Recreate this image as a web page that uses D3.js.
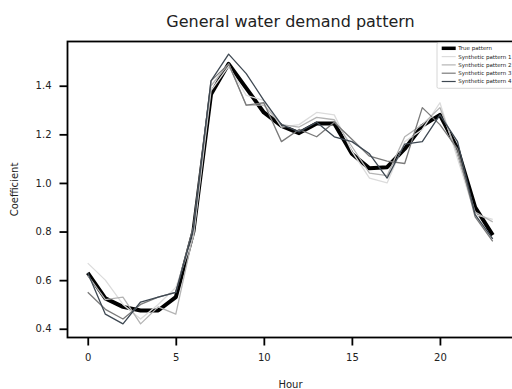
<!doctype html>
<html>
  <head>
    <script src="https://cdnjs.cloudflare.com/ajax/libs/d3/7.8.5/d3.min.js"></script>
    <style>
      body { margin: 0; background: #fff; }
      text { font-family: "DejaVu Sans", sans-serif; fill: #222; }
    </style>
  </head>
  <body>
    <svg width="512" height="389"></svg>
    <script>
        var hours = d3.range(24);
        var truePattern = [0.63, 0.525, 0.49, 0.475, 0.475, 0.53, 0.80, 1.365, 1.49, 1.39, 1.29, 1.235, 1.205, 1.245, 1.245, 1.12, 1.06, 1.065, 1.14, 1.235, 1.28, 1.14, 0.90, 0.785];
        var synth1 = [0.67, 0.60, 0.50, 0.44, 0.50, 0.57, 0.78, 1.38, 1.48, 1.36, 1.34, 1.23, 1.24, 1.29, 1.28, 1.13, 1.02, 1.00, 1.17, 1.22, 1.33, 1.10, 0.87, 0.85];
        var synth2 = [0.62, 0.52, 0.53, 0.42, 0.49, 0.46, 0.79, 1.40, 1.49, 1.32, 1.32, 1.24, 1.23, 1.27, 1.26, 1.15, 1.04, 1.03, 1.19, 1.24, 1.31, 1.12, 0.88, 0.84];
        var synth3 = [0.55, 0.48, 0.44, 0.50, 0.53, 0.55, 0.82, 1.42, 1.49, 1.32, 1.33, 1.17, 1.22, 1.19, 1.25, 1.18, 1.11, 1.09, 1.08, 1.31, 1.24, 1.14, 0.86, 0.76];
        var synth4 = [0.63, 0.46, 0.42, 0.51, 0.53, 0.55, 0.81, 1.42, 1.53, 1.45, 1.34, 1.24, 1.21, 1.25, 1.19, 1.17, 1.12, 1.02, 1.16, 1.17, 1.28, 1.17, 0.87, 0.77];
        var seriesNames = ["True pattern", "Synthetic pattern 1", "Synthetic pattern 2", "Synthetic pattern 3", "Synthetic pattern 4"];
        var xTicks = [0, 5, 10, 15, 20];
        var yTicks = [0.4, 0.6, 0.8, 1.0, 1.2, 1.4];

        var series = [
            {name: seriesNames[0], values: truePattern, color: "#000", width: 4},
            {name: seriesNames[1], values: synth1, color: "#dcdcdc", width: 1.3},
            {name: seriesNames[2], values: synth2, color: "#b4b4b4", width: 1.3},
            {name: seriesNames[3], values: synth3, color: "#7a7a7a", width: 1.3},
            {name: seriesNames[4], values: synth4, color: "#3e4852", width: 1.3}
        ];

        var plotLeft = 67.5, plotRight = 513, plotTop = 41.5, plotBottom = 337.5;
        var x = d3.scaleLinear().domain([-1.15, 24.15]).range([plotLeft, plotRight]);
        var y = d3.scaleLinear().domain([0.364, 1.582]).range([plotBottom, plotTop]);

        var svg = d3.select("svg");

        var line = d3.line()
            .x((d, i) => x(hours[i]))
            .y(d => y(d));

        svg.append("g").selectAll("path")
            .data(series)
            .enter()
            .append("path")
                .attr("d", d => line(d.values))
                .attr("fill", "none")
                .attr("stroke", d => d.color)
                .attr("stroke-width", d => d.width)
                .attr("stroke-linejoin", "round");

        // frame
        svg.append("rect")
            .attr("x", plotLeft).attr("y", plotTop)
            .attr("width", plotRight - plotLeft).attr("height", plotBottom - plotTop)
            .attr("fill", "none").attr("stroke", "#000").attr("stroke-width", 1.8);

        var xAxis = svg.append("g")
            .attr("transform", "translate(0," + plotBottom + ")")
            .call(d3.axisBottom(x).tickValues(xTicks).tickFormat(d3.format("d")).tickSize(8).tickPadding(8));
        var yAxis = svg.append("g")
            .attr("transform", "translate(" + plotLeft + ",0)")
            .call(d3.axisLeft(y).tickValues(yTicks).tickFormat(d3.format(".1f")).tickSize(8).tickPadding(8));
        [xAxis, yAxis].forEach(a => {
            a.select(".domain").remove();
            a.selectAll(".tick line").attr("stroke", "#000").attr("stroke-width", 1.8);
            a.selectAll(".tick text").attr("font-size", 10).attr("font-family", "DejaVu Sans").attr("fill", "#222");
        });

        svg.append("text")
            .attr("x", 290.5).attr("y", 26.5)
            .attr("text-anchor", "middle").attr("font-size", 16)
            .text("General water demand pattern");
        svg.append("text")
            .attr("x", 290.5).attr("y", 387.5)
            .attr("text-anchor", "middle").attr("font-size", 10)
            .text("Hour");
        svg.append("text")
            .attr("transform", "translate(17.5," + ((plotTop + plotBottom) / 2) + ") rotate(-90)")
            .attr("text-anchor", "middle").attr("font-size", 10)
            .text("Coefficient");

        // legend
        var lg = svg.append("g");
        lg.append("rect")
            .attr("x", 437).attr("y", 42.7).attr("width", 90).attr("height", 45.6)
            .attr("rx", 1.5)
            .attr("fill", "#fff").attr("fill-opacity", 0.85)
            .attr("stroke", "#cccccc").attr("stroke-width", 0.8);
        var item = lg.selectAll("g.item")
            .data(series)
            .enter()
            .append("g")
                .attr("transform", (d, i) => "translate(0," + (48.3 + i * 8.3) + ")");
        item.append("line")
            .attr("x1", 441.7).attr("x2", 455.7)
            .attr("stroke", d => d.color)
            .attr("stroke-width", (d, i) => i === 0 ? 3.5 : 1.2);
        item.append("text")
            .attr("x", 458.3).attr("dy", "0.35em")
            .attr("font-size", 5.5)
            .text(d => d.name);
    </script>
  </body>
</html>
